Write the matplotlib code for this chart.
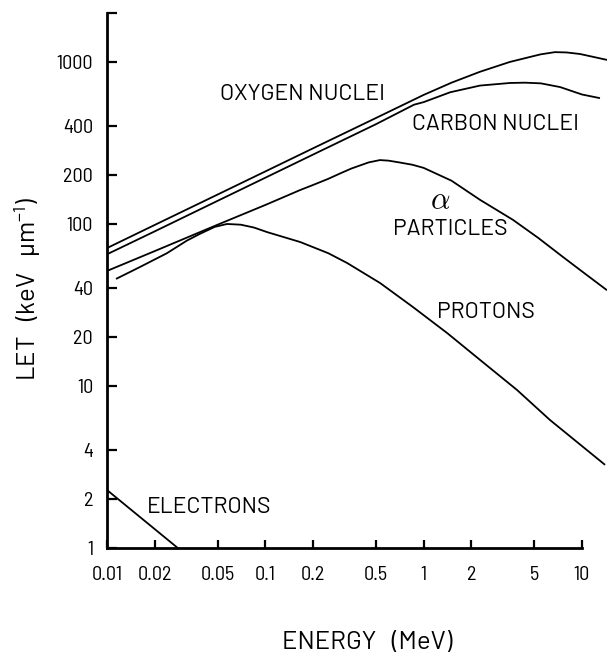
import matplotlib
matplotlib.use("Agg")
import matplotlib.pyplot as plt
from matplotlib.ticker import FixedLocator, FixedFormatter, NullLocator

# Linear energy transfer of charged particles in water, log-log
oxygen_E   = [0.01, 0.02, 0.05, 0.1, 0.2, 0.5, 1.0, 1.5, 2.27, 3.5, 4.7, 5.5, 6.76, 8.0, 9.73, 14.4]
oxygen_LET = [71, 98.6, 152, 211, 293, 451, 626, 745, 870, 1000, 1074, 1115, 1150, 1145, 1120, 1030]

carbon_E   = [0.01, 0.02, 0.05, 0.1, 0.2, 0.5, 0.87, 1.0, 1.47, 2.27, 3.52, 4.38, 5.5, 7.28, 10, 13]
carbon_LET = [65, 90, 139, 193, 268, 413, 545, 565, 650, 715, 742, 745, 738, 700, 630, 598]

alpha_E   = [0.01, 0.02, 0.05, 0.1, 0.166, 0.2, 0.25, 0.3, 0.35, 0.45, 0.53, 0.6, 0.7, 0.85, 1.0, 1.5,
             2.27, 3.67, 5.3, 7.6, 10, 14.4]
alpha_LET = [51.3, 68, 99, 131, 162, 174, 190, 206, 220, 240, 248, 246, 240, 232, 222, 185,
             141, 106, 82, 62.5, 51, 39]

proton_E   = [0.0114, 0.016, 0.0239, 0.032, 0.0387, 0.048, 0.0573, 0.07, 0.085, 0.103, 0.166, 0.25,
              0.328, 0.531, 0.857, 1.41, 2.27, 3.89, 6.28, 14.0]
proton_LET = [45.8, 54, 66, 79, 87, 96, 100, 99, 95, 89, 77.4, 66,
              57.5, 43.2, 30.7, 21.2, 14.5, 9.45, 6.17, 3.26]

electron_E   = [0.01, 0.028]
electron_LET = [2.28, 1.0]

x_ticks = [0.01, 0.02, 0.05, 0.1, 0.2, 0.5, 1, 2, 5, 10]
x_tick_labels = ["0.01", "0.02", "0.05", "0.1", "0.2", "0.5", "1", "2", "5", "10"]
y_ticks = [1, 2, 4, 10, 20, 40, 100, 200, 400, 1000, 2000]
y_tick_labels = ["1", "2", "4", "10", "20", "40", "100", "200", "400", "1000", ""]

TICK_FONT = ["Barlow Semi Condensed", "DejaVu Sans"]
TEXT_FONT = ["Barlow", "DejaVu Sans"]
plt.rcParams["font.family"] = TICK_FONT
plt.rcParams["mathtext.fontset"] = "custom"
plt.rcParams["mathtext.rm"] = "Barlow"
plt.rcParams["mathtext.default"] = "rm"

fig = plt.figure(figsize=(6.07, 6.58), dpi=100)
ax = fig.add_axes([107 / 607, 110 / 658, 1 - 107 / 607, (548 - 13.2) / 658])
ax.set_xscale("log")
ax.set_yscale("log")
ax.set_xlim(0.01, 14.4)
ax.set_ylim(1, 2000)

line_kw = dict(color="black", lw=1.3, solid_capstyle="butt", solid_joinstyle="round")
for E, L in [(oxygen_E, oxygen_LET), (carbon_E, carbon_LET), (alpha_E, alpha_LET),
             (proton_E, proton_LET), (electron_E, electron_LET)]:
    ax.plot(E, L, **line_kw)

for side in ("top", "right"):
    ax.spines[side].set_visible(False)
for side in ("left", "bottom"):
    ax.spines[side].set_linewidth(2.0)
ax.spines["bottom"].set_bounds(0.01, 10)

ax.xaxis.set_major_locator(FixedLocator(x_ticks))
ax.xaxis.set_major_formatter(FixedFormatter(x_tick_labels))
ax.yaxis.set_major_locator(FixedLocator(y_ticks))
ax.yaxis.set_major_formatter(FixedFormatter(y_tick_labels))
ax.xaxis.set_minor_locator(NullLocator())
ax.yaxis.set_minor_locator(NullLocator())
ax.tick_params(axis="x", direction="in", length=6, width=1.6, pad=13, labelsize=14.5)
ax.tick_params(axis="y", direction="in", length=7.5, width=1.6, pad=10, labelsize=14.5)

ax.set_xlabel("ENERGY   (MeV)", fontsize=18.5, family=TEXT_FONT, va="center")
ax.xaxis.set_label_coords((367 - 107) / 500, (548 - 643) / 535)
ax.set_ylabel("LET   (keV   µm$^{-1}$)", fontsize=18.5, family=TEXT_FONT, va="center")
ax.yaxis.set_label_coords((28 - 107) / 500, (548 - 289) / 535)

lab = dict(fontsize=16.5, ha="center", va="center", family=TEXT_FONT)
ax.text(0.173, 626, "OXYGEN NUCLEI", **lab)
ax.text(2.83, 414, "CARBON NUCLEI", **lab)
ax.text(1.27, 139, r"$\alpha$", fontsize=22, ha="center", va="center", math_fontfamily="cm")
ax.text(1.47, 93, "PARTICLES", **lab)
ax.text(2.48, 28.6, "PROTONS", **lab)
ax.text(0.044, 1.77, "ELECTRONS", **lab)

fig.savefig("out.png", dpi=100)
